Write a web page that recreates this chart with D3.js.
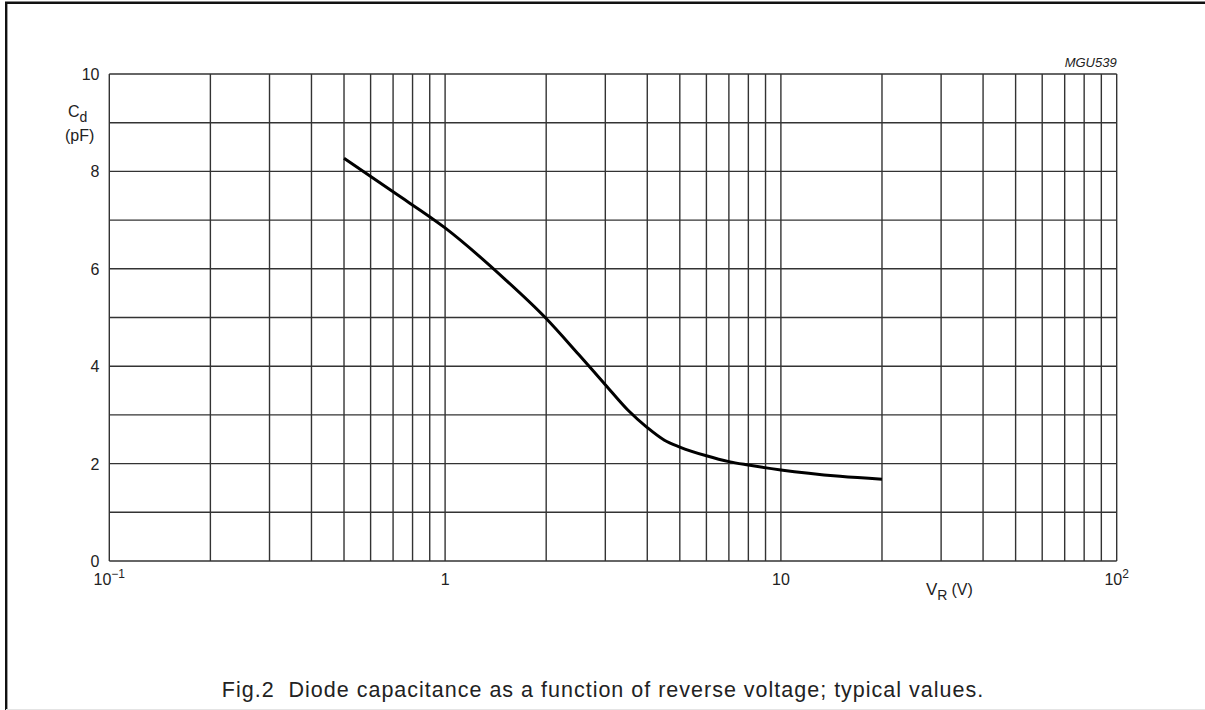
<!DOCTYPE html>
<html><head><meta charset="utf-8">
<script src="https://cdn.jsdelivr.net/npm/d3@7"></script>
<style>body{margin:0;background:#fff}svg{display:block}text{font-family:"Liberation Sans",Arial,sans-serif;fill:#222}</style>
</head><body><svg id="c" width="1205" height="710"></svg>
<script>
const voltage = [0.5, 0.7, 1, 1.5, 2, 2.5, 3, 3.5, 4, 4.5, 5, 6, 7, 8, 10, 15, 20];
const capacitance = [8.27, 7.58, 6.84, 5.80, 4.98, 4.24, 3.62, 3.10, 2.74, 2.48, 2.34, 2.16, 2.04, 1.97, 1.87, 1.74, 1.68];
const yTicks = [0, 2, 4, 6, 8, 10];
const yGrid = [0,1,2,3,4,5,6,7,8,9,10];
const xDecades = [0.1, 1, 10, 100];
const xMinorMult = [2,3,4,5,6,7,8,9];

const svg = d3.select("#c");
const L = 109.3, R = 1116.7, T = 74, B = 561;
const x = d3.scaleLog().domain([0.1, 100]).range([L, R]);
const y = d3.scaleLinear().domain([0, 10]).range([B, T]);

// frame
svg.append("path").attr("d","M6.2,712 L6.2,2.8 L1210,2.8").attr("fill","none").attr("stroke","#111").attr("stroke-width",2.4);
svg.append("line").attr("x1",6).attr("x2",1205).attr("y1",709.5).attr("y2",709.5).attr("stroke","#e4e4e4").attr("stroke-width",1);

// vertical grid
const xg = [];
xDecades.slice(0,3).forEach(d => { xg.push(d); xMinorMult.forEach(m => xg.push(d*m)); });
xg.push(100);
svg.append("g").selectAll("line").data(xg).join("line")
  .attr("x1", d=>x(d)).attr("x2", d=>x(d)).attr("y1", T).attr("y2", B)
  .attr("stroke","#333").attr("stroke-width",1.4);
// horizontal grid
svg.append("g").selectAll("line").data(yGrid).join("line")
  .attr("x1", L).attr("x2", R).attr("y1", d=>y(d)).attr("y2", d=>y(d))
  .attr("stroke","#333").attr("stroke-width",1.4);

// y tick labels
svg.append("g").selectAll("text").data(yTicks).join("text")
  .attr("x", 99.5).attr("y", d=>y(d)+6).attr("text-anchor","end").attr("font-size",16).text(d=>d);

// x tick labels
const xl = svg.append("g");
function pow(v, exp){
  const t = xl.append("text").attr("x", x(v)).attr("y", 585).attr("font-size",16).attr("text-anchor","middle");
  t.append("tspan").text("10");
  t.append("tspan").attr("dy",-7).attr("font-size",12).text(exp);
}
pow(xDecades[0], "\u22121");
xl.append("text").attr("x", x(xDecades[1])).attr("y",585).attr("font-size",16).attr("text-anchor","middle").text("1");
xl.append("text").attr("x", x(xDecades[2])).attr("y",585).attr("font-size",16).attr("text-anchor","middle").text("10");
pow(xDecades[3], "2");

// axis titles
const cy = svg.append("text").attr("x",68).attr("y",116.5).attr("font-size",16);
cy.append("tspan").text("C");
cy.append("tspan").attr("dy",5).attr("font-size",14).text("d");
svg.append("text").attr("x",65).attr("y",141).attr("font-size",16).text("(pF)");
const vr = svg.append("text").attr("x",926).attr("y",595).attr("font-size",17);
vr.append("tspan").text("V");
vr.append("tspan").attr("dy",5).attr("font-size",14).text("R");
vr.append("tspan").attr("dy",-5).attr("font-size",16).attr("dx",4).text("(V)");

svg.append("text").attr("x",1116.7).attr("y",67).attr("text-anchor","end").attr("font-size",13).attr("font-style","italic").text("MGU539");

// curve
const pts = voltage.map((v,i)=>[v, capacitance[i]]);
svg.append("path").datum(pts)
  .attr("d", d3.line().x(d=>x(d[0])).y(d=>y(d[1])).curve(d3.curveMonotoneX))
  .attr("fill","none").attr("stroke","#000").attr("stroke-width",3);

// caption
svg.append("text").attr("x",603).attr("y",697).attr("text-anchor","middle").attr("font-size",21.5)
  .attr("xml:space","preserve").style("white-space","pre").attr("letter-spacing",1.0)
  .text("Fig.2  Diode capacitance as a function of reverse voltage; typical values.");
</script></body></html>
